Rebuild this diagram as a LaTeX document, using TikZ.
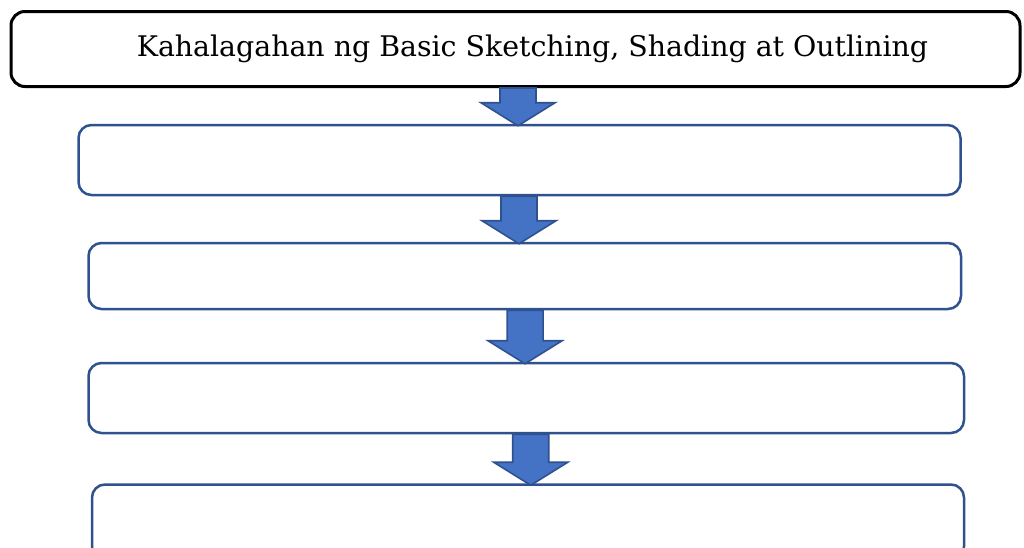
\documentclass[tikz,border=0pt]{standalone}
\usepackage{fontspec}
\setmainfont{DejaVu Serif}
\usetikzlibrary{calc}

\definecolor{stepblue}{HTML}{2F528F}
\definecolor{arrowblue}{HTML}{4472C4}

\tikzset{
  titlebox/.style={draw=black, line width=1.5pt, rounded corners=7pt,
    inner sep=0pt, font=\fontsize{14.2}{16}\selectfont},
  stepbox/.style={draw=stepblue, line width=1.25pt, rounded corners=6.5pt, inner sep=0pt},
  blockarrow/.style={fill=arrowblue, draw=stepblue, line width=0.8pt, line join=miter},
}

% block arrow from the bottom of #1 to the top of #2, shifted by #3
\newcommand{\flowarrow}[3]{%
  \filldraw[blockarrow] let \p1=(#1.south), \p2=(#2.north) in
    ({\x1+#3-9pt},\y1) -- ({\x1+#3+9pt},\y1) -- ({\x1+#3+9pt},{\y2+10.5pt})
    -- ({\x1+#3+18.5pt},{\y2+10.5pt}) -- ({\x1+#3},{\y2-1pt})
    -- ({\x1+#3-18.5pt},{\y2+10.5pt}) -- ({\x1+#3-9pt},{\y2+10.5pt}) -- cycle;}

\begin{document}
\begin{tikzpicture}[x=0.5pt, y=-0.5pt]
  \useasboundingbox (0,0) rectangle (1024,547);
  \clip (0,0) rectangle (1024,547);

  \node[titlebox, minimum width=504.5pt, minimum height=37.5pt] (title) at (515.5,49)
    {\hspace*{17pt}\raisebox{1pt}{Kahalagahan ng Basic Sketching, Shading at Outlining}};
  \node[stepbox, minimum width=441pt, minimum height=35pt] (s1) at (519.5,160) {};
  \node[stepbox, minimum width=436.25pt, minimum height=33pt] (s2) at (524.75,276) {};
  \node[stepbox, minimum width=437.75pt, minimum height=35pt] (s3) at (526.25,398) {};
  \node[stepbox, minimum width=436pt, minimum height=37.5pt] (s4) at (528,522) {};

  \flowarrow{title}{s1}{1.25pt}
  \flowarrow{s1}{s2}{-0.25pt}
  \flowarrow{s2}{s3}{0.15pt}
  \flowarrow{s3}{s4}{2.25pt}
\end{tikzpicture}
\end{document}
